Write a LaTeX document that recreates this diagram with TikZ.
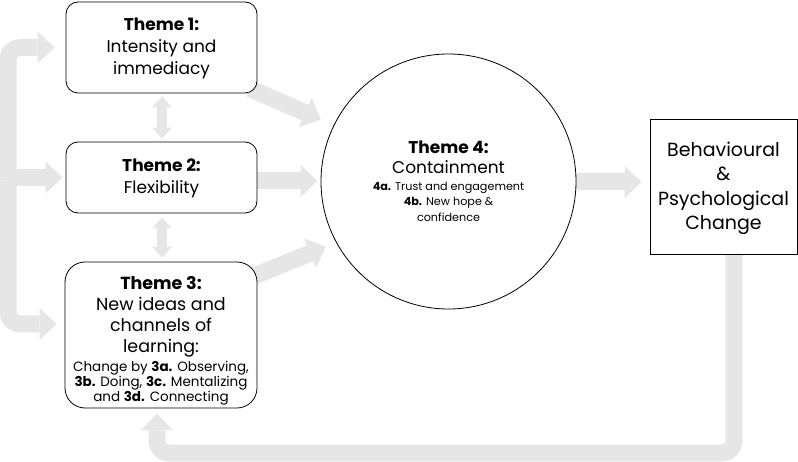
\documentclass[tikz,border=0pt]{standalone}
\usepackage{fontspec}
\setmainfont{Poppins}
\usetikzlibrary{arrows.meta,calc}
\pgfdeclarelayer{bg}
\pgfsetlayers{bg,main}
\definecolor{arr}{HTML}{E6E6E6}
\tikzset{
  big/.style={draw=arr, line width=17pt, rounded corners=12pt,
    -{Triangle[width=32pt,length=17pt,line width=0pt]}},
  dbl/.style={draw=arr, line width=10pt,
    {Triangle[width=20pt,length=11pt,line width=0pt]}-{Triangle[width=20pt,length=11pt,line width=0pt]}},
  theme/.style={draw, fill=white, rounded corners=12pt, line width=0.8pt,
    align=center, inner sep=0pt, font=\fontsize{17}{22}\selectfont},
}
\newcommand{\smf}{\fontsize{11.2}{14}\selectfont}
\newcommand{\smt}{\fontsize{13.5}{15}\selectfont}
\begin{document}
\begin{tikzpicture}[x=1pt,y=-1pt]
\useasboundingbox (0,0) rectangle (798,462);
% nodes
\node[theme, minimum width=191pt, minimum height=91pt] (t1) at (161.5,47.5)
  {\rule{0pt}{15pt}\textbf{Theme 1:}\\Intensity and\\immediacy};
\node[theme, minimum width=191pt, minimum height=71pt] (t2) at (161.5,177.5)
  {\rule{0pt}{15pt}\textbf{Theme 2:}\\Flexibility};
\node[theme, rounded corners=20pt, minimum width=192pt, minimum height=146pt,
  font=\fontsize{17.5}{20.8}\selectfont] (t3) at (161,335)
  {\rule{0pt}{25pt}\textbf{Theme 3:}\\New ideas and\\channels of\\learning:\\[-1pt]
   \smt Change by \textbf{3a.} Observing,\\[-6pt]
   \smt\textbf{3b.} Doing, \textbf{3c.} Mentalizing\\[-6pt]
   \smt and \textbf{3d.} Connecting};
\node[draw, circle, fill=white, line width=0.8pt, minimum size=255pt, inner sep=0pt,
  align=center, font=\fontsize{17}{20}\selectfont] (c4) at (448.5,181.5)
  {\textbf{Theme 4:}\\Containment\\[-3pt]
   \smf\textbf{4a.} Trust and engagement\\[-5pt]
   \smf\textbf{4b.} New hope \&\\[-4pt]
   \smf confidence};
\node[draw, fill=white, line width=0.8pt, minimum width=147pt, minimum height=135pt,
  inner sep=0pt, align=center, font=\fontsize{19}{24.5}\selectfont] (beh) at (723.5,186.5)
  {\rule{0pt}{18pt}Behavioural\\\&\\Psychological\\Change};
\coordinate (bar) at (8,0);
\coordinate (br) at ($(beh.south)+(10.5,0)$);
\coordinate (bl) at (157,453);
% connectors
\begin{pgfonlayer}{bg}
  % left feedback bar into themes 1-3
  \draw[big, shorten >=11pt] (bar |- t2.west) -- (bar |- t1.west) -- (t1.west);
  \draw[big, shorten >=3pt] (bar |- t2.west) -- (t2.west);
  \draw[big, shorten >=8pt] (bar |- t2.west) -- (bar |- 0,324) -- (t3.west |- 0,324);
  % themes to containment
  \draw[big, shorten >=6pt] ($(t1.south east)+(-8,-5)$) -- ($(c4.center)!136pt!(c4.154)$);
  \draw[big] (t2.east |- 0,181) -- ($(c4.west |- 0,181)+(-3,0)$);
  \draw[big] ($(t3.east |- 0,278)+(-8,0)$) -- ($(c4.center)!139pt!(c4.208)$);
  % containment to change
  \draw[big, shorten >=8pt] (c4.east |- 0,182) -- (beh.west |- 0,182);
  % feedback from change to theme 3
  \draw[big, shorten >=5pt] ($(br)+(0,-2)$) -- (br |- bl) -- (bl) -- (bl |- t3.south);
  % between themes
  \draw[dbl, shorten <=3pt, shorten >=3pt] (t1.south -| 162,0) -- (t2.north -| 162,0);
  \draw[dbl, shorten <=4pt, shorten >=4pt] (t2.south -| 162,0) -- (t3.north -| 162,0);
\end{pgfonlayer}
\end{tikzpicture}
\end{document}
